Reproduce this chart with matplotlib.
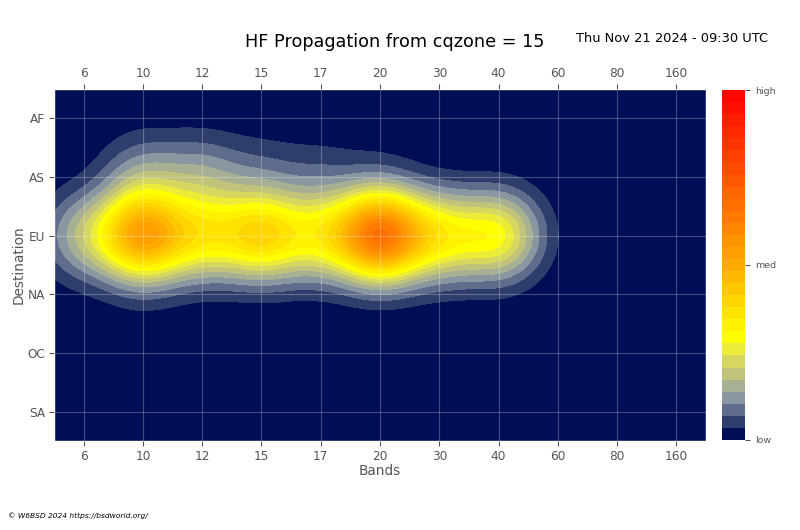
import numpy as np
import matplotlib
matplotlib.use('Agg')
import matplotlib.pyplot as plt
from matplotlib.colors import LinearSegmentedColormap

# bands and destinations
bands = ['6', '10', '12', '15', '17', '20', '30', '40', '60', '80', '160']
zones = ['AF', 'AS', 'EU', 'NA', 'OC', 'SA']

# propagation level per destination, one value per band (0 = low, 1 = high)
af = [0.00, 0.00, 0.00, 0.00, 0.00, 0.00, 0.00, 0.00, 0.00, 0.00, 0.00]
as_ = [0.00, 0.10, 0.10, 0.05, 0.04, 0.02, 0.00, 0.00, 0.00, 0.00, 0.00]
eu = [0.14, 0.47, 0.24, 0.33, 0.22, 0.60, 0.25, 0.26, 0.00, 0.00, 0.00]
na = [0.00, 0.01, 0.00, 0.00, 0.00, 0.00, 0.00, 0.00, 0.00, 0.00, 0.00]
oc = [0.00, 0.00, 0.00, 0.00, 0.00, 0.00, 0.00, 0.00, 0.00, 0.00, 0.00]
sa = [0.00, 0.00, 0.00, 0.00, 0.00, 0.00, 0.00, 0.00, 0.00, 0.00, 0.00]

grid = np.array([af, as_, eu, na, oc, sa])

# smooth the grid with a gaussian kernel
sx, sy = 0.5, 0.52
xs = np.linspace(-0.5, len(bands) - 0.5, 440)
ys = np.linspace(-0.5, len(zones) - 0.5, 240)
kx = np.exp(-(xs[:, None] - np.arange(len(bands))[None, :]) ** 2 / (2 * sx ** 2))
ky = np.exp(-(ys[:, None] - np.arange(len(zones))[None, :]) ** 2 / (2 * sy ** 2))
Z = np.clip(ky @ grid @ kx.T, 0, 1)

navy = '#000f55'
cmap = LinearSegmentedColormap.from_list('prop', [
    (0.000, navy),
    (0.017, navy),
    (0.052, '#2f3e6c'),
    (0.086, '#5f6d8c'),
    (0.121, '#8f9ca2'),
    (0.155, '#aab192'),
    (0.190, '#c2c47a'),
    (0.224, '#d6d75e'),
    (0.259, '#ebeb38'),
    (0.293, '#ffff00'),
    (0.500, '#ffab00'),
    (1.000, '#ff0000'),
])

plt.style.use('ggplot')
fig = plt.figure(figsize=(8, 5.3), dpi=100)
ax = fig.add_axes([0.0675, 0.168, 0.815, 0.664])
cax = fig.add_axes([0.9025, 0.170, 0.029, 0.66])

cs = ax.contourf(xs, ys, Z, levels=np.linspace(0, 1, 30), cmap=cmap)
ax.set_facecolor(navy)
ax.set_xlim(-0.5, len(bands) - 0.5)
ax.set_ylim(len(zones) - 0.5, -0.5)
ax.set_xticks(range(len(bands)))
ax.set_xticklabels(bands)
ax.set_yticks(range(len(zones)))
ax.set_yticklabels(zones)
ax.tick_params(top=True, labeltop=True, labelsize=8.7, pad=3)
ax.set_axisbelow(False)
ax.grid(True, color='white', alpha=0.25, linewidth=0.8)
ax.set_xlabel('Bands', fontsize=9.8, labelpad=1)
ax.set_ylabel('Destination', fontsize=9.8, labelpad=1)

cb = fig.colorbar(cs, cax=cax, ticks=[0, 0.5, 1])
cb.ax.set_yticklabels(['low', 'med', 'high'])
cb.ax.tick_params(labelsize=6.8)
cb.outline.set_visible(False)

fig.text(0.4935, 0.921, 'HF Propagation from cqzone = 15', ha='center', va='center', fontsize=12.7)
fig.text(0.84, 0.928, 'Thu Nov 21 2024 - 09:30 UTC', ha='center', va='center', fontsize=9.4)
fig.text(0.01, 0.022, '\u00a9 W6BSD 2024 https://bsdworld.org/', fontsize=5.4, style='italic')

fig.savefig('out.png')
